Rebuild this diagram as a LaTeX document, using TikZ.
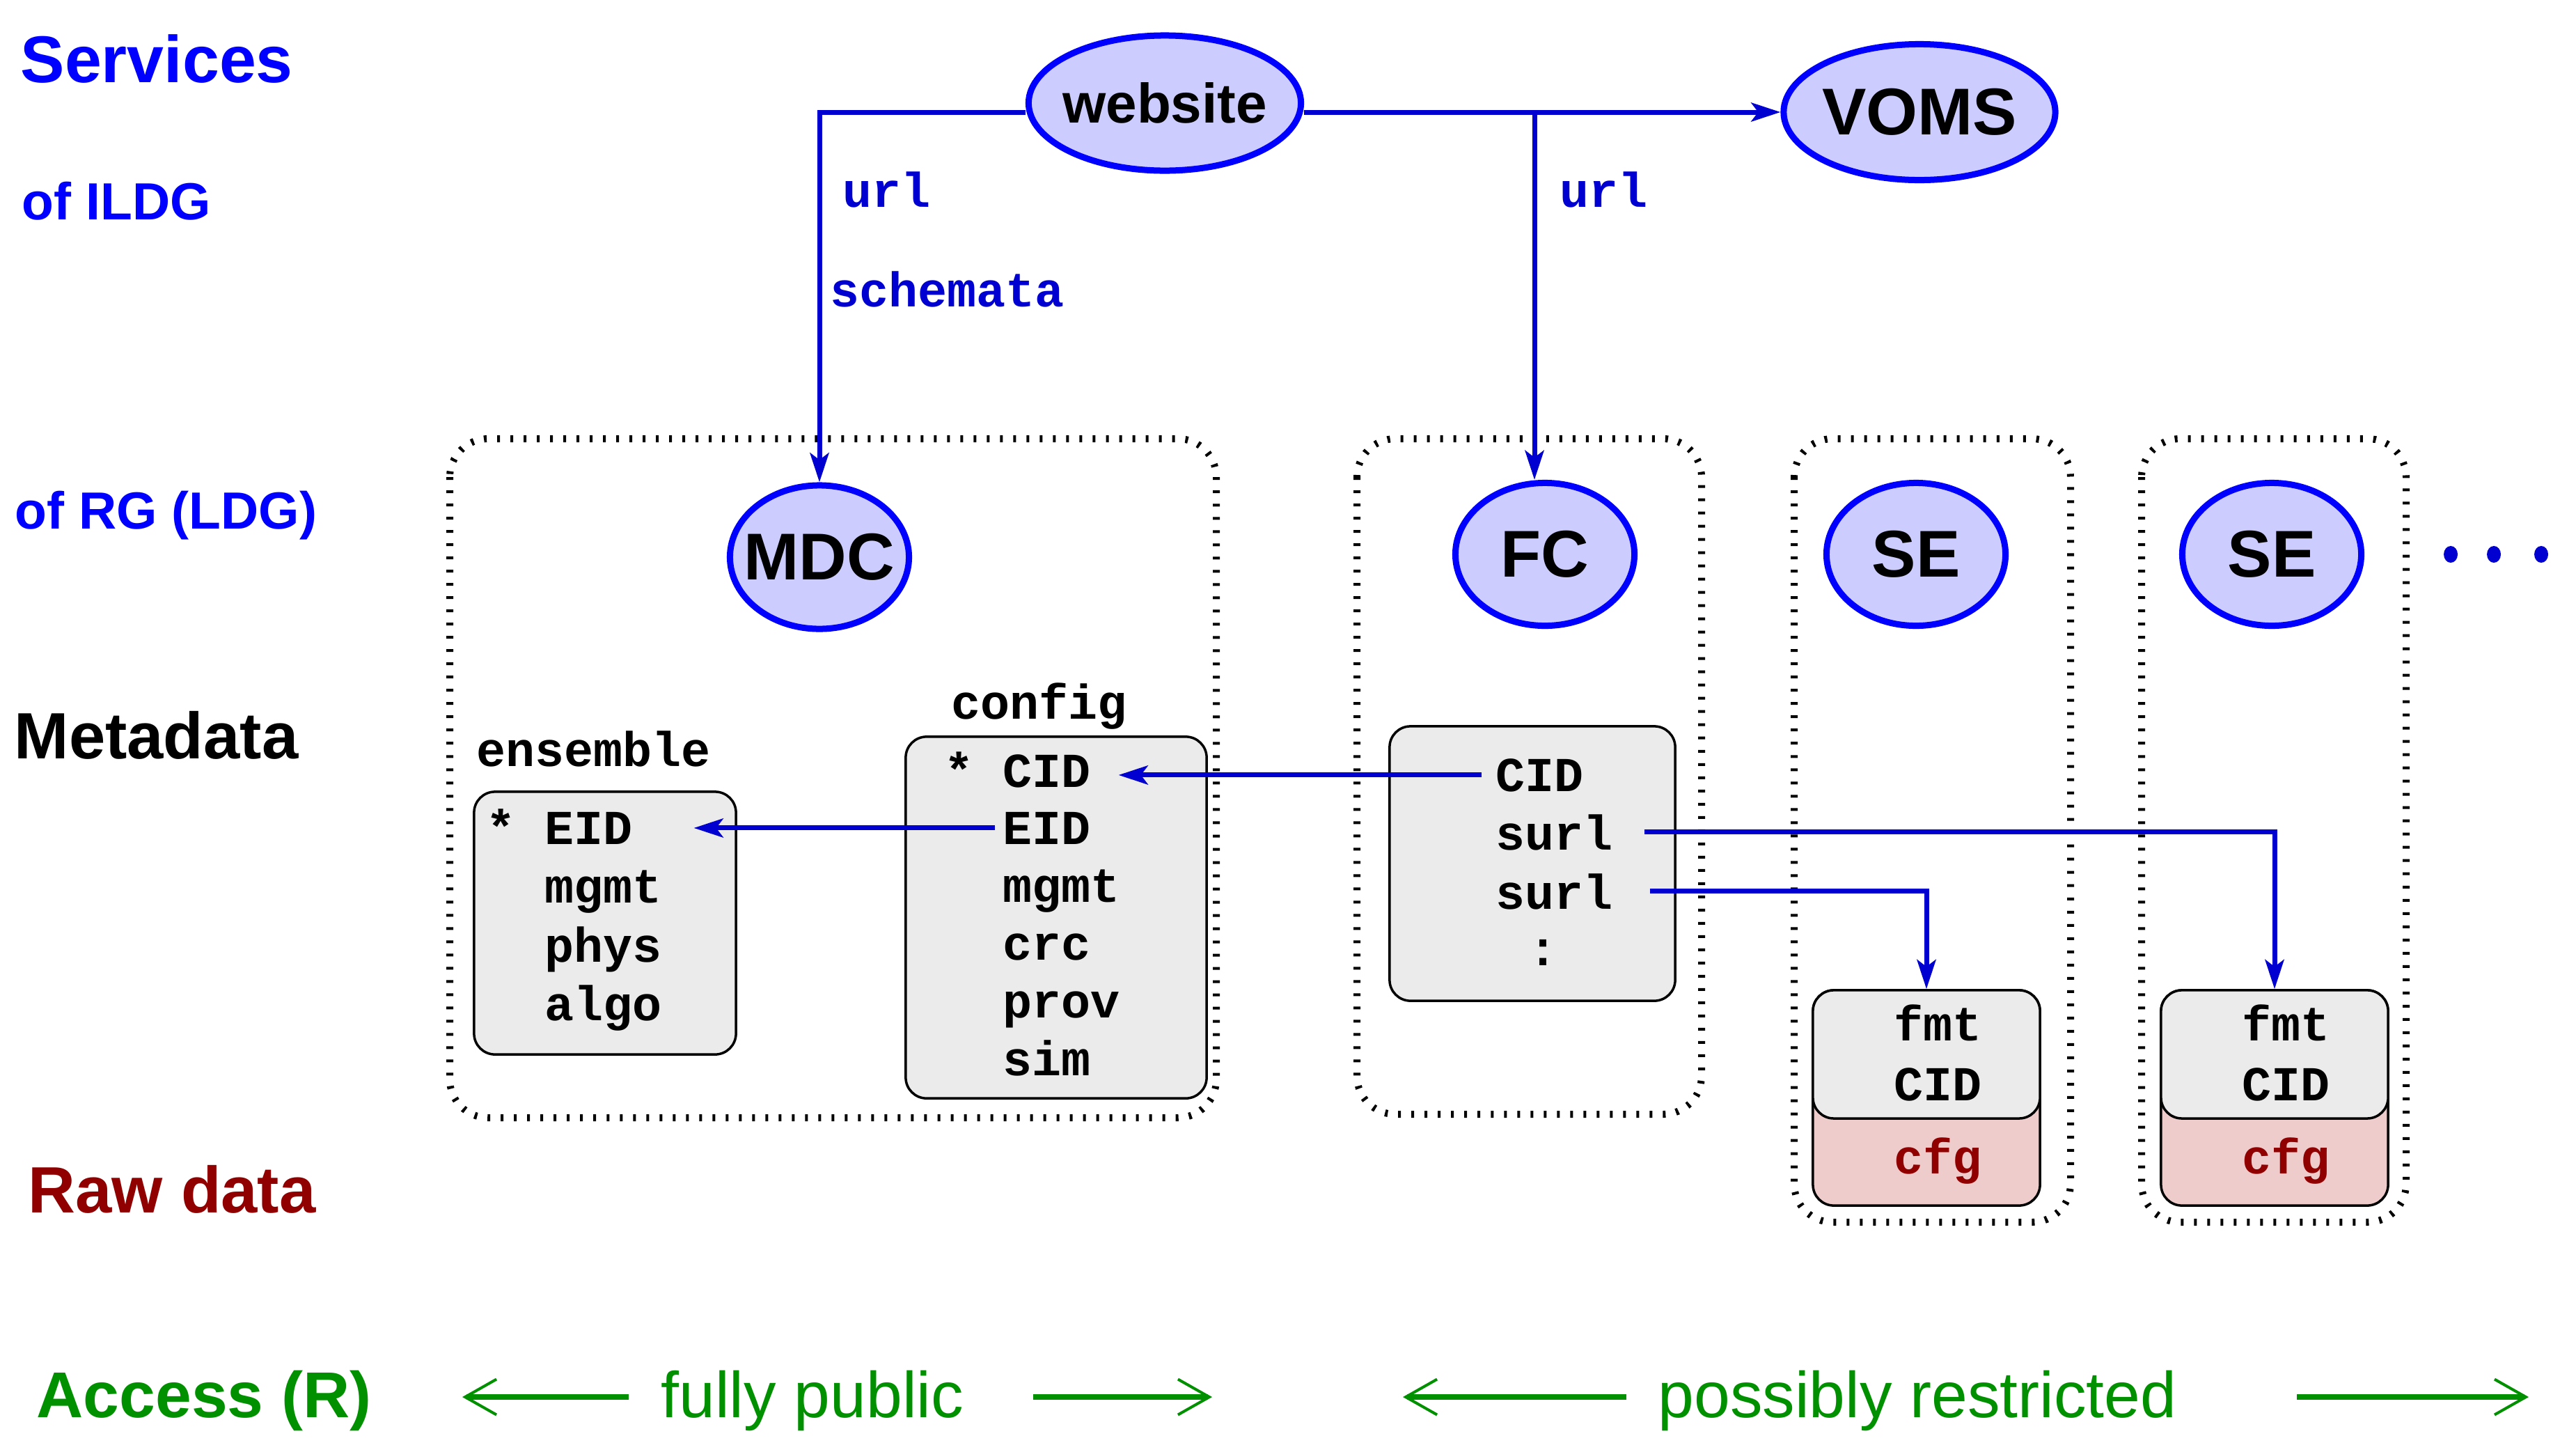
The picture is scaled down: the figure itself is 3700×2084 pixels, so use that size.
\documentclass[tikz,border=0pt]{standalone}
\usepackage{fontspec}
\setmainfont{Liberation Sans}
\setmonofont{Liberation Mono}
\usetikzlibrary{shapes.geometric,arrows.meta,calc}

\definecolor{svcblue}{RGB}{0,0,255}
\definecolor{linkblue}{RGB}{0,0,208}
\definecolor{svcfill}{RGB}{204,204,255}
\definecolor{boxgrey}{RGB}{235,235,235}
\definecolor{rawpink}{RGB}{238,204,204}
\definecolor{rawred}{RGB}{144,0,0}
\definecolor{accgreen}{RGB}{0,144,0}

\begin{document}
\begin{tikzpicture}[x=0.01cm,y=-0.01cm,
  svc/.style={ellipse,draw=svcblue,fill=svcfill,line width=0.09cm,inner sep=0pt,
    font=\bfseries\fontsize{0.95cm}{0.95cm}\selectfont,
    execute at begin node={\hbox to 0pt\bgroup\hss},
    execute at end node={\hss\egroup}},
  zone/.style={line width=0.1cm,dash pattern=on 0.04cm off 0.15cm,rounded corners=0.55cm},
  box/.style={draw,line width=0.035cm,fill=boxgrey,rounded corners=0.3cm,inner sep=0pt},
  field/.style={anchor=base west,inner sep=0pt,
    font=\ttfamily\bfseries\fontsize{0.7cm}{0.7cm}\selectfont},
  tag/.style={field,text=linkblue},
  side/.style={anchor=base west,inner sep=0pt,font=\bfseries\fontsize{#1}{#1}\selectfont},
  link/.style={linkblue,line width=0.07cm,-{Stealth[length=0.42cm,width=0.27cm,inset=0.1cm]}},
  span/.style={accgreen,line width=0.075cm,-{Straight Barb[length=0.45cm,width=0.51cm,line width=0.04cm]}}]
\useasboundingbox (0,0) rectangle (3700,2084);

\draw[zone] (646,630) rectangle (1747,1605);
\draw[zone] (1949,630) rectangle (2444,1600);
\draw[zone] (2577,630) rectangle (2974,1755);
\draw[zone] (3076,630) rectangle (3456,1755);

\node[side=0.95cm,text=svcblue] (services) at (29,118) {Services};
\node[side=0.75cm,text=svcblue] (ofILDG) at (31,315) {of ILDG};
\node[side=0.75cm,text=svcblue] (ofRG) at (21,759) {of RG (LDG)};
\node[side=0.94cm] (metadata) at (20,1089) {Metadata};
\node[side=0.94cm,text=rawred] (rawdata) at (40,1741) {Raw data};
\node[side=0.93cm,text=accgreen] (access) at (52,2035) {Access (R)};
\node[side=0.93cm,text=accgreen,font=\fontsize{0.93cm}{0.93cm}\selectfont] (pub) at (949,2035) {fully public};
\node[side=0.93cm,text=accgreen,font=\fontsize{0.93cm}{0.93cm}\selectfont] (res) at (2381,2035) {possibly restricted};

\node[svc,minimum width=3.91cm,minimum height=1.94cm,font=\bfseries\fontsize{0.8cm}{0.8cm}\selectfont] (website) at (1673,148) {website};
\node[svc,minimum width=3.9cm,minimum height=1.95cm] (VOMS) at (2757,161) {VOMS};
\node[svc,minimum width=2.57cm,minimum height=2.06cm] (MDC) at (1177,800) {MDC};
\node[svc,minimum width=2.57cm,minimum height=2.05cm] (FC) at (2219,796) {FC};
\foreach \n/\xe/\xb in {1/2752/2767,2/3263/3267}{
  \node[svc,minimum width=2.57cm,minimum height=2.05cm] (SE\n) at (\xe,796) {SE};
  \node[box,fill=rawpink,minimum width=3.26cm,minimum height=3.09cm] (raw\n) at (\xb,1576.5) {};
  \node[box,minimum width=3.26cm,minimum height=1.84cm,anchor=north] (rawtop\n) at (raw\n.north) {};
  \node[field] (fmt\n) at ({\xb-47},1494) {fmt};
  \node[field] (cid\n) at ({\xb-47},1580) {CID};
  \node[field,text=rawred] (cfg\n) at ({\xb-47},1685) {cfg};
}
\foreach \x in {3520,3582,3650}
  \fill[linkblue] (\x,796) ellipse [x radius=0.1cm,y radius=0.12cm];

\node[box,minimum width=3.76cm,minimum height=3.77cm] (ensBox) at (869,1325.5) {};
\node[box,minimum width=4.32cm,minimum height=5.19cm] (cfgBox) at (1517,1317.5) {};
\node[box,minimum width=4.1cm,minimum height=3.94cm] (fcBox) at (2201,1240) {};

\node[tag] (urlA) at (1210,297) {url};
\node[tag] (schemata) at (1192,440) {schemata};
\node[tag] (urlB) at (2240,297) {url};

\node[field] (ensLabel) at (684,1100) {ensemble};
\node[field] (eEID) at (698,1212) {* EID};
\foreach \w [count=\i] in {mgmt,phys,algo}
  \node[field] (e\w) at (782,{1212+84.5*\i}) {\w};
\node[field] (cfgLabel) at (1366,1032) {config};
\node[field] (cCID) at (1356,1130) {* CID};
\node[field] (cEID) at (1440,1212) {EID};
\foreach \w [count=\i] in {mgmt,crc,prov,sim}
  \node[field] (c\w) at (1440,{1212+83*\i}) {\w};
\node[field] (fcCID) at (2148,1136) {CID};
\node[field] (fcS1) at (2148,1220) {surl};
\node[field] (fcS2) at (2148,1305) {surl};
\node[field] (fcMore) at (2195,1386) {:};

\coordinate (fork) at (2204,161);
\draw[link] (website.east |- VOMS.west) -- (VOMS.west);
\draw[link] (website.west |- VOMS.west) -| (MDC.north);
\draw[link] (fork) -- (fork |- FC.north);
\draw[link] ($(cEID.west)+(-11,0)$) -- ($(cEID.west -| eEID.east)+(87,0)$);
\draw[link] ($(fcCID.west)+(-20,0)$) -- ($(fcCID.west -| cCID.east)+(39,0)$);
\draw[link] ($(fcS1.east)+(44,0)$) -| (raw2.north);
\draw[link] ($(fcS2.east)+(52,0)$) -| (raw1.north);

\draw[span] ($(pub.base west)+(-46,-29)$) -- ($(pub.base west)+(-285,-29)$);
\draw[span] ($(pub.base west)+(535,-29)$) -- ($(pub.base west)+(792,-29)$);
\draw[span] ($(res.base west)+(-45,-29)$) -- ($(res.base west)+(-366,-29)$);
\draw[span] ($(res.base west)+(918,-29)$) -- ($(res.base west)+(1251,-29)$);
\end{tikzpicture}
\end{document}
